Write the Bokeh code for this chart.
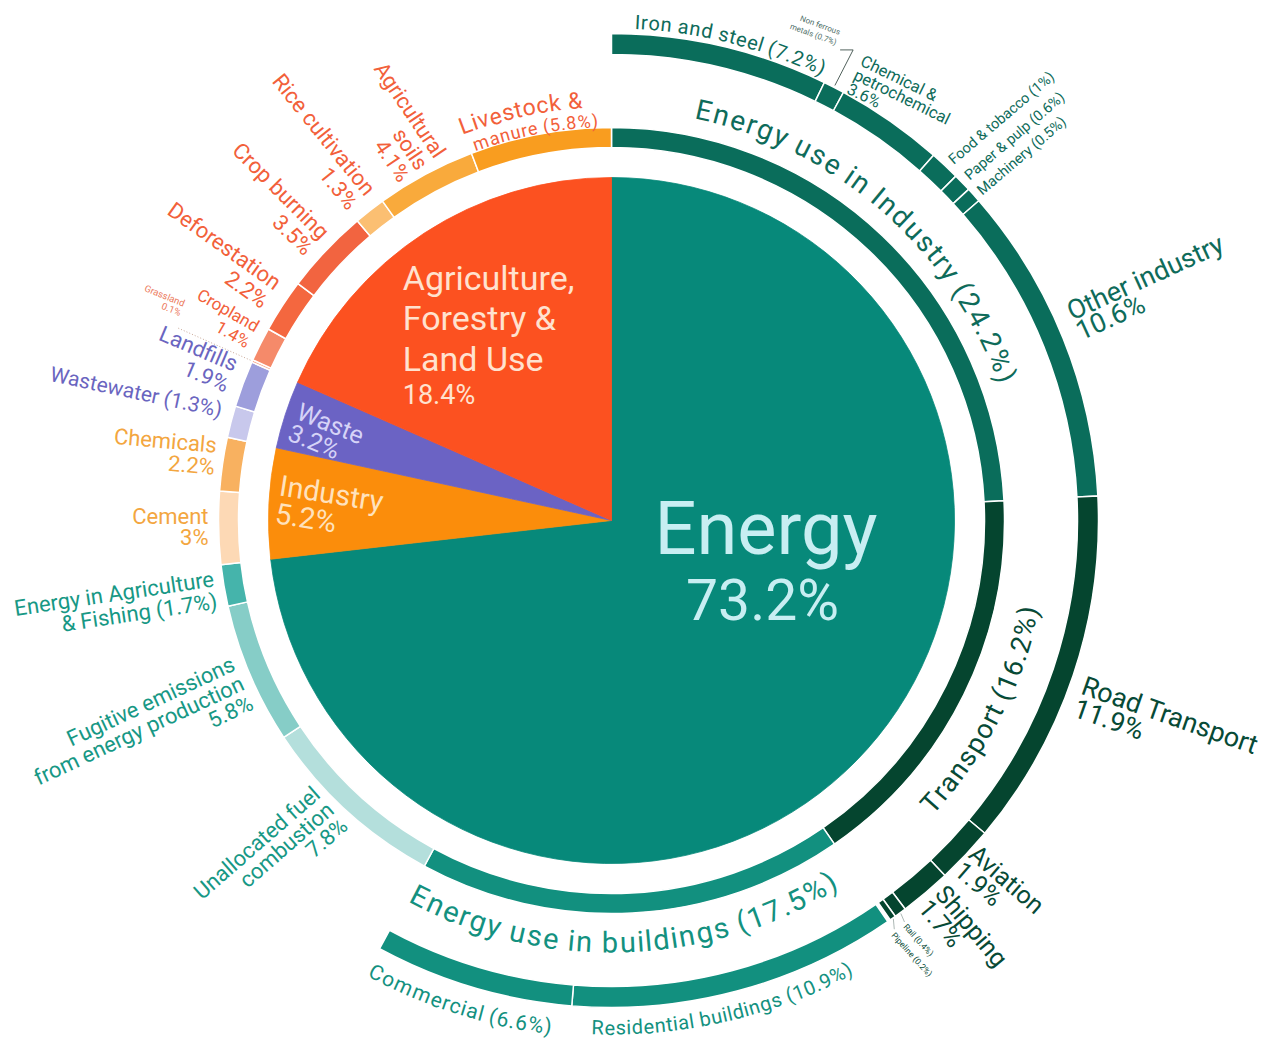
import math
from bokeh.plotting import figure
from bokeh.embed import file_html
from bokeh.resources import INLINE
from bokeh.core.properties import value

# ---------------- data ----------------
sector_names = ["Energy", "Industry", "Waste", "Agriculture, Forestry & Land Use"]
sector_pct = [73.2, 5.2, 3.2, 18.4]

sub_names = ["Energy use in Industry", "Transport", "Energy use in buildings",
             "Unallocated fuel combustion", "Fugitive emissions from energy production",
             "Energy in Agriculture & Fishing", "Cement", "Chemicals", "Wastewater",
             "Landfills", "Grassland", "Cropland", "Deforestation", "Crop burning",
             "Rice cultivation", "Agricultural soils", "Livestock & manure"]
sub_pct = [24.2, 16.2, 17.5, 7.8, 5.8, 1.7, 3.0, 2.2, 1.3, 1.9, 0.1, 1.4, 2.2, 3.5, 1.3, 4.1, 5.8]

industry_names = ["Iron and steel", "Non ferrous metals", "Chemical & petrochemical",
                  "Food & tobacco", "Paper & pulp", "Machinery", "Other industry"]
industry_pct = [7.2, 0.7, 3.6, 1.0, 0.6, 0.5, 10.6]

transport_names = ["Road Transport", "Aviation", "Shipping", "Rail", "Pipeline"]
transport_pct = [11.9, 1.9, 1.7, 0.4, 0.2]

buildings_names = ["Residential buildings", "Commercial"]
buildings_pct = [10.9, 6.6]

# ---------------- style ----------------
sector_colors = ["#07897a", "#fb8d0b", "#6b63c4", "#fc5120"]
sub_colors = ["#0a6d5b", "#05452f", "#12907f", "#b4dfdc", "#86cdc7", "#45b4ab",
              "#fdd9b5", "#f8b160", "#c8c8ec", "#9d9edc", "#f9a68c", "#f58a6a",
              "#f4673f", "#f26440", "#fbbf72", "#f9aa3c", "#f99d1f"]
IND_C, TR_C, BLD_C = "#0a6d5b", "#05452f", "#12907f"

IND_T, TR_T, BLD_T = "#0e6b5a", "#074a36", "#139180"
EN_T, IN_T, WA_T, AG_T = "#179885", "#f3a640", "#6a65c0", "#f2603a"
FONT = "Roboto"

CX, CY = 611, 520
R_PIE = 343
R_IN0, R_IN1 = 373, 393
R_OUT0, R_OUT1 = 466, 487

p = figure(width=1275, height=1040, x_range=(0, 1275), y_range=(0, 1040),
           x_axis_type=None, y_axis_type=None, toolbar_location=None,
           output_backend="svg", min_border=0)
p.outline_line_color = None
p.background_fill_color = "white"
p.border_fill_color = "white"


def cum(vals, start=0.0):
    out, a = [], start
    for v in vals:
        out.append((a, a + v))
        a += v
    return out


def mid(span):
    return (span[0] + span[1]) / 2 * 3.6


def pol(theta_deg, r):
    t = math.radians(theta_deg)
    return CX + r * math.sin(t), CY + r * math.cos(t)


def fmt(v):
    return f"{v:g}%"


sector_span = cum(sector_pct)
sub_span = cum(sub_pct)
sub_idx = {n: i for i, n in enumerate(sub_names)}
ind_span = cum(industry_pct, sub_span[sub_idx["Energy use in Industry"]][0])
tr_span = cum(transport_pct, sub_span[sub_idx["Transport"]][0])
bld_span = cum(buildings_pct, sub_span[sub_idx["Energy use in buildings"]][0])


def angles(spans):
    s = [math.radians(90 - b * 3.6) for a, b in spans]
    e = [math.radians(90 - a * 3.6) for a, b in spans]
    return s, e

# ---------------- pie ----------------
s, e = angles(sector_span)
p.wedge(x=CX, y=CY, radius=R_PIE, start_angle=s, end_angle=e,
        fill_color=sector_colors, line_color=sector_colors, line_width=0.8)

# ---------------- inner ring ----------------
s, e = angles(sub_span)
p.annular_wedge(x=CX, y=CY, inner_radius=R_IN0, outer_radius=R_IN1,
                start_angle=s, end_angle=e, fill_color=sub_colors,
                line_color="white", line_width=1.5)

# ---------------- outer ring ----------------
for spans, col in ((ind_span, IND_C), (tr_span, TR_C), (bld_span, BLD_C)):
    s, e = angles(spans)
    p.annular_wedge(x=CX, y=CY, inner_radius=R_OUT0, outer_radius=R_OUT1,
                    start_angle=s, end_angle=e, fill_color=col,
                    line_color="white", line_width=1.5)

# ---------------- text helpers ----------------
W = {' ': 0.248, '(': 0.342, ')': 0.348, '%': 0.732, '.': 0.263, '&': 0.621, ',': 0.196,
     'a': 0.543, 'b': 0.561, 'c': 0.523, 'd': 0.564, 'e': 0.530, 'f': 0.347, 'g': 0.561,
     'h': 0.551, 'i': 0.243, 'j': 0.239, 'k': 0.507, 'l': 0.243, 'm': 0.876, 'n': 0.552,
     'o': 0.570, 'p': 0.561, 'q': 0.568, 'r': 0.339, 's': 0.516, 't': 0.327, 'u': 0.551,
     'v': 0.484, 'w': 0.751, 'x': 0.496, 'y': 0.473, 'z': 0.496,
     'A': 0.653, 'C': 0.652, 'E': 0.567, 'I': 0.272, 'L': 0.538, 'R': 0.616, 'T': 0.610}
for d in "0123456789":
    W[d] = 0.561


def arc_text(text, r, center, span, size, color, outward=True):
    ws = [W.get(c, 0.55) for c in text]
    cs, acc = [], 0.0
    for w in ws:
        cs.append(acc + w / 2)
        acc += w
    c0, cn = cs[0], cs[-1]
    if outward:
        t1, t2 = center - span / 2, center + span / 2
    else:
        t1, t2 = center + span / 2, center - span / 2
    xs, ys, ang = [], [], []
    for c in cs:
        t = t1 + (t2 - t1) * (c - c0) / (cn - c0)
        x, y = pol(t, r)
        xs.append(x)
        ys.append(y)
        tr = math.radians(t)
        ang.append(-tr if outward else math.pi - tr)
    p.text(x=xs, y=ys, text=list(text), angle=ang, text_align="center",
           text_baseline="middle", text_font=value(FONT),
           text_font_size=f"{size}px", text_color=color)


def lines_label(lines, x0, y0, rot, align, size, color, sp):
    a = math.radians(rot)
    px, py = math.sin(a), -math.cos(a)
    for i, ln in enumerate(lines):
        p.text(x=[x0 + i * sp * px], y=[y0 + i * sp * py], text=[ln], angle=a,
               text_align=align, text_baseline="middle", text_font=value(FONT),
               text_font_size=f"{size}px", text_color=color)

# ---------------- pie labels ----------------
ag = sector_span[3]
ax, ay = pol(mid(ag), 232)
for ln, dy, sz in (("Agriculture,", 48.5, 34), ("Forestry &", 8.5, 34), ("Land Use", -32.5, 34),
                   (fmt(sector_pct[3]), -69, 27)):
    p.text(x=[ax - 82], y=[ay + dy], text=[ln], text_align="left", text_baseline="middle",
           text_font=value(FONT), text_font_size=f"{sz}px", text_color="#ffe2cf")

wx, wy = pol(mid(sector_span[2]), 320)
lines_label(["Waste", fmt(sector_pct[2])], wx - 9, wy + 11, -22, "left", 25, "#d6d3f7", 23)
ix, iy = pol(mid(sector_span[1]), 320)
lines_label(["Industry", fmt(sector_pct[1])], ix - 12, iy + 19, -9, "left", 29, "#ffe2bd", 28)

p.text(x=[CX + 154.5], y=[CY - 8], text=["Energy"], text_align="center", text_baseline="middle",
       text_font=value(FONT), text_font_size="74px", text_color="#c8eef2")
p.text(x=[CX + 151], y=[CY - 80], text=[fmt(sector_pct[0])], text_align="center",
       text_baseline="middle", text_font=value(FONT), text_font_size="57px", text_color="#c8eef2")

# ---------------- curved labels ----------------
def sidx(n):
    return sub_idx[n]

arc_text(f"Energy use in Industry ({fmt(sub_pct[0])})", 420, mid(sub_span[0]) - 2.2, 57.3, 28, IND_T, True)
arc_text(f"Transport ({fmt(sub_pct[1])})", 427, mid(sub_span[1]) + 0.6, 29.2, 27, TR_T, False)
arc_text(f"Energy use in buildings ({fmt(sub_pct[2])})", 422, mid(sub_span[2]) + 1.0, 58.2, 29, BLD_T, False)
arc_text(f"Iron and steel ({fmt(industry_pct[0])})", 499, mid(ind_span[0]) + 1.0, 21.9, 20, IND_T, True)
arc_text(f"Residential buildings ({fmt(buildings_pct[0])})", 507, mid(bld_span[0]) + 1.85, 29.3, 20, BLD_T, False)
arc_text(f"Commercial ({fmt(buildings_pct[1])})", 510, mid(bld_span[1]) + 0.75, 20.3, 21, BLD_T, False)
ls = sub_span[sidx("Livestock & manure")]
arc_text("Livestock &", 421, mid(ls) - 2.2, 15.3, 23, AG_T, True)
arc_text(f"manure ({fmt(sub_pct[sidx('Livestock & manure')])})", 400, mid(ls) - 0.3, 16.7, 18, AG_T, True)

# ---------------- radial labels, left side ----------------
left_specs = [
    ("Unallocated fuel combustion", 5.0, 400, 41, 22, ["Unallocated fuel", "combustion", "{p}"], 21, EN_T),
    ("Fugitive emissions from energy production", 2.4, 404, 25, 22,
     ["Fugitive emissions", "from energy production", "{p}"], 21.5, EN_T),
    ("Energy in Agriculture & Fishing", 1.2, 402, 8.5, 22, ["Energy in Agriculture", "& Fishing ({p})"], 22.5, EN_T),
    ("Cement", 1.7, 403, 0, 22, ["Cement", "{p}"], 21, IN_T),
    ("Chemicals", 2.5, 402, -5, 22, ["Chemicals", "{p}"], 22, IN_T),
    ("Wastewater", 1.2, 405, -12, 21, ["Wastewater ({p})"], 0, WA_T),
    ("Landfills", 2.2, 406, -23, 22, ["Landfills", "{p}"], 22.5, WA_T),
    ("Cropland", 2.0, 403, -30, 17, ["Cropland", "{p}"], 18.5, AG_T),
    ("Deforestation", 2.2, 408, -35.5, 22, ["Deforestation", "{p}"], 22.5, AG_T),
    ("Crop burning", 1.5, 404, -45, 22, ["Crop burning", "{p}"], 22.5, AG_T),
    ("Rice cultivation", 1.7, 407, -51, 22, ["Rice cultivation", "{p}"], 22.5, AG_T),
    ("Agricultural soils", 3.2, 403, -56, 21.5, ["Agricultural", "soils", "{p}"], 21.5, AG_T),
]
for name, dth, r, rot, size, lines, sp, col in left_specs:
    i = sidx(name)
    x, y = pol(mid(sub_span[i]) + dth, r)
    lines_label([ln.replace("{p}", fmt(sub_pct[i])) for ln in lines], x, y, rot, "right", size, col, sp)

# Grassland (tiny, with dotted leader)
gi = sidx("Grassland")
gth = mid(sub_span[gi])
x0, y0 = pol(gth, R_IN1 + 2)
x1, y1 = pol(gth, 474)
p.line(x=[x0, x1], y=[y0, y1], line_color="#c9a898", line_width=1, line_dash="1 2")
gx, gy = pol(gth + 3, 479)
lines_label(["Grassland", fmt(sub_pct[gi])], gx, gy, -22, "right", 9.5, "#ec7a5c", 10)

# ---------------- radial labels, right side ----------------
ind_specs = [
    (2, -6.4, 524, -26, 16.5, ["Chemical &", "petrochemical", "{p}"], 15.5),
    (3, 0.2, 494, 40.5, 14.5, ["Food & tobacco ({p})"], 0),
    (4, -0.1, 494, 40.5, 14.5, ["Paper & pulp ({p})"], 0),
    (5, 0.2, 493, 40.5, 14.5, ["Machinery ({p})"], 0),
    (6, -2.5, 502, 24.5, 27, ["Other industry", "{p}"], 22),
]
for i, dth, r, rot, size, lines, sp in ind_specs:
    x, y = pol(mid(ind_span[i]) + dth, r)
    lines_label([ln.replace("{p}", fmt(industry_pct[i])) for ln in lines], x, y, rot, "left", size, IND_T, sp)

tr_specs = [
    (0, 0.7, 499, -19.3, 27, ["Road Transport", "{p}"], 24),
    (1, -1.0, 489, -41, 25, ["Aviation", "{p}"], 22),
    (2, -1.6, 494, -50, 25, ["Shipping", "{p}"], 22),
    (3, 0.4, 500, -48, 8.5, ["Rail ({p})"], 0),
    (4, 1.0, 500, -48, 8.5, ["Pipeline ({p})"], 0),
]
for i, dth, r, rot, size, lines, sp in tr_specs:
    x, y = pol(mid(tr_span[i]) + dth, r)
    lines_label([ln.replace("{p}", fmt(transport_pct[i])) for ln in lines], x, y, rot, "left", size, TR_T, sp)
    if size < 10:
        xa, ya = pol(mid(tr_span[i]), R_OUT1 + 1)
        xb, yb = pol(mid(tr_span[i]) + dth * 0.6, r - 3)
        p.line(x=[xa, xb], y=[ya, yb], line_color="#8a9a95", line_width=0.7)

# Non ferrous metals: bracket + tiny label
nth = mid(ind_span[1])
xa, ya = pol(nth, R_OUT1 + 2)
xb, yb = pol(nth, 529)
p.line(x=[xa, xb, xb - 13], y=[ya, yb, yb], line_color="#3d4f4a", line_width=0.9)
a = math.radians(-20)
l2x, l2y = xb - 17, yb + 7
lines_label(["Non ferrous", f"metals ({fmt(industry_pct[1])})"],
            l2x - 11 * math.sin(a), l2y + 11 * math.cos(a), -20, "right", 8, "#4f6f68", 11)

open("out.html", "w").write(file_html(p, INLINE))
